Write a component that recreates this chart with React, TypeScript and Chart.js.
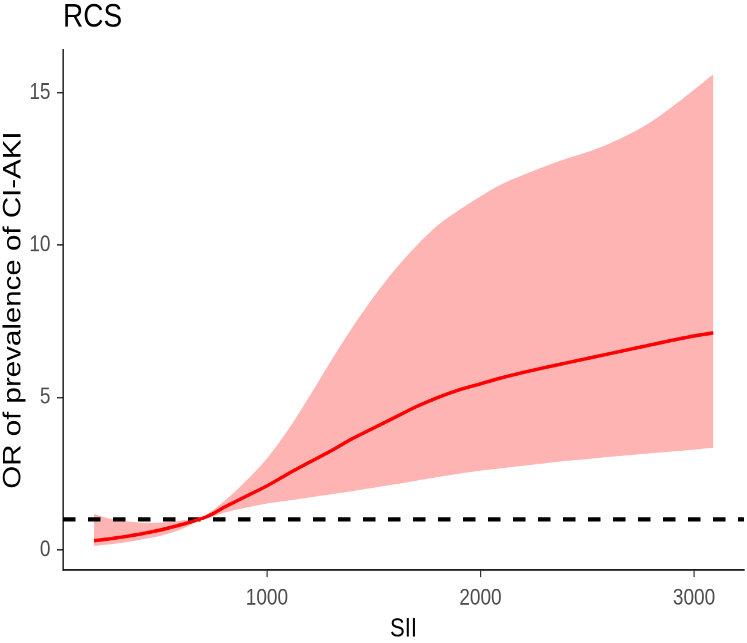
import React, { useEffect, useRef } from "react";
import { Chart, registerables } from "chart.js";

Chart.register(...registerables);

// ---- data ----
const siiValues = [190, 250, 300, 350, 400, 450, 500, 550, 600, 650, 680, 700, 750, 800, 900, 1000, 1100, 1200, 1300, 1400, 1500, 1600, 1700, 1800, 1900, 2000, 2100, 2200, 2300, 2400, 2500, 2600, 2700, 2800, 2900, 3000, 3090];
const orValues = [0.30, 0.35, 0.40, 0.45, 0.51, 0.58, 0.65, 0.74, 0.83, 0.93, 1.00, 1.04, 1.20, 1.40, 1.75, 2.10, 2.50, 2.88, 3.25, 3.65, 4.00, 4.35, 4.70, 5.00, 5.25, 5.45, 5.65, 5.82, 5.98, 6.13, 6.28, 6.43, 6.58, 6.73, 6.88, 7.02, 7.12];
const upperCI = [1.18, 1.05, 0.98, 0.93, 0.90, 0.89, 0.90, 0.92, 0.96, 0.99, 1.00, 1.08, 1.32, 1.60, 2.25, 3.00, 3.95, 5.05, 6.20, 7.30, 8.30, 9.20, 9.98, 10.65, 11.15, 11.60, 12.00, 12.30, 12.58, 12.83, 13.05, 13.32, 13.65, 14.05, 14.55, 15.10, 15.60];
const lowerCI = [0.13, 0.17, 0.21, 0.26, 0.32, 0.39, 0.46, 0.56, 0.68, 0.85, 1.00, 1.01, 1.10, 1.22, 1.38, 1.52, 1.62, 1.72, 1.82, 1.93, 2.04, 2.15, 2.27, 2.39, 2.50, 2.60, 2.68, 2.76, 2.84, 2.92, 2.98, 3.05, 3.11, 3.17, 3.23, 3.29, 3.35];
const referenceOR = 1;
const xTicks = [1000, 2000, 3000];
const yTicks = [0, 5, 10, 15];
const xRange = [45, 3234];
const yRange = [-0.66, 16.4];

// ---- geometry ----
const W = 747;
const H_SCREEN = 643;
const H = 545; // drawing height, stretched to screen height
const S = H_SCREEN / H;
const PLOT_TOP = 50 / S;
const PLOT_BOTTOM = 570 / S;
const FONT = "'Liberation Sans', Arial, sans-serif";

export default function App() {
  const ref = useRef<HTMLCanvasElement | null>(null);

  useEffect(() => {
    const canvas = ref.current;
    if (!canvas) return;
    canvas.width = W;
    canvas.height = H;
    canvas.style.width = W + "px";
    canvas.style.height = H_SCREEN + "px";

    const pts = (ys: number[]) => siiValues.map((x, i) => ({ x, y: ys[i] }));

    const chart = new Chart(canvas, {
      type: "line",
      data: {
        datasets: [
          {
            label: "OR",
            data: pts(orValues),
            borderColor: "#FF0000",
            borderWidth: 3,
            pointRadius: 0,
            fill: false,
            cubicInterpolationMode: "monotone",
            order: 0,
          },
          {
            label: "ref",
            data: [
              { x: xRange[0], y: referenceOR },
              { x: xRange[1], y: referenceOR },
            ],
            borderColor: "#000000",
            borderWidth: 3.4,
            borderDash: [12.5, 12.5],
            pointRadius: 0,
            fill: false,
            order: 1,
          },
          {
            label: "upper",
            data: pts(upperCI),
            borderWidth: 0,
            borderColor: "rgba(0,0,0,0)",
            backgroundColor: "rgb(255,180,180)",
            pointRadius: 0,
            fill: "+1",
            cubicInterpolationMode: "monotone",
            order: 2,
          },
          {
            label: "lower",
            data: pts(lowerCI),
            borderWidth: 0,
            borderColor: "rgba(0,0,0,0)",
            pointRadius: 0,
            fill: false,
            cubicInterpolationMode: "monotone",
            order: 3,
          },
        ],
      },
      options: {
        responsive: false,
        devicePixelRatio: 2,
        animation: false,
        layout: { padding: { top: 0, right: 3, bottom: 0, left: 0 } },
        plugins: {
          legend: { display: false },
          tooltip: { enabled: false },
          title: {
            display: true,
            text: "RCS",
            align: "start",
            fullSize: false,
            color: "#000000",
            font: { family: FONT, size: 28, weight: "normal", lineHeight: 1 },
            padding: { top: 1, bottom: PLOT_TOP - 29 },
          },
        },
        scales: {
          x: {
            type: "linear",
            position: "bottom",
            min: xRange[0],
            max: xRange[1],
            afterFit: (scale: any) => {
              scale.height = H - PLOT_BOTTOM;
            },
            afterBuildTicks: (scale: any) => {
              scale.ticks = xTicks.map((v) => ({ value: v }));
            },
            ticks: {
              color: "#4D4D4D",
              font: { family: FONT, size: 19 },
              padding: 6.5,
              maxRotation: 0,
              callback: (v: any) => String(v),
            },
            grid: {
              drawOnChartArea: false,
              drawTicks: true,
              tickLength: 6,
              color: "#333333",
              lineWidth: 1.2,
            },
            border: { display: true, color: "#000000", width: 1.3 },
            title: {
              display: true,
              text: "SII",
              color: "#000000",
              font: { family: FONT, size: 22, lineHeight: 1 },
              padding: { top: 0, bottom: 0.8 },
            },
          },
          y: {
            type: "linear",
            min: yRange[0],
            max: yRange[1],
            afterFit: (scale: any) => {
              scale.width = 63;
            },
            afterBuildTicks: (scale: any) => {
              scale.ticks = yTicks.map((v) => ({ value: v }));
            },
            ticks: {
              color: "#4D4D4D",
              font: { family: FONT, size: 19 },
              padding: 6.5,
              callback: (v: any) => String(v),
            },
            grid: {
              drawOnChartArea: false,
              drawTicks: true,
              tickLength: 6,
              color: "#333333",
              lineWidth: 1.2,
            },
            border: { display: true, color: "#000000", width: 1.3 },
            title: {
              display: true,
              text: "OR of prevalence of CI-AKI",
              color: "#000000",
              font: { family: FONT, size: 25, lineHeight: 1 },
              padding: { top: 1, bottom: 0 },
            },
          },
        },
      },
    });

    return () => chart.destroy();
  }, []);

  return (
    <div style={{ position: "fixed", left: 0, top: 0, width: W, height: H_SCREEN, background: "#fff" }}>
      <canvas ref={ref} />
    </div>
  );
}
